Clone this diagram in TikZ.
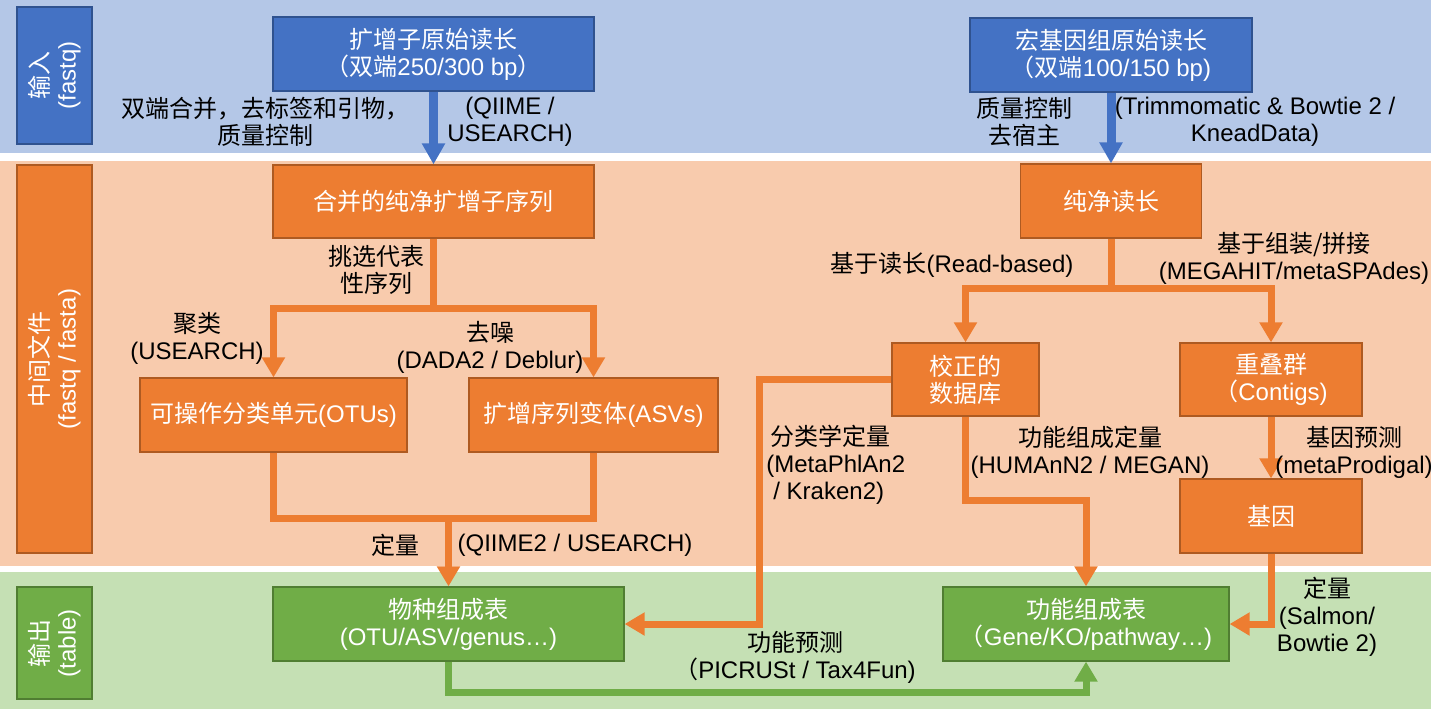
\documentclass[tikz,border=0pt]{standalone}
\usepackage{fontspec}
\setmainfont{Liberation Sans}
\newfontfamily\cjk{Noto Sans CJK SC}
\usetikzlibrary{arrows.meta}
\newcommand{\zh}[1]{{\cjk #1}}

\definecolor{bandblue}{HTML}{B4C7E7}
\definecolor{bandorange}{HTML}{F8CBAD}
\definecolor{bandgreen}{HTML}{C5E0B4}
\definecolor{boxblue}{HTML}{4472C4}
\definecolor{boxorange}{HTML}{ED7D31}
\definecolor{boxgreen}{HTML}{70AD47}
\definecolor{edgeblue}{HTML}{2F528F}
\definecolor{edgeorange}{HTML}{AE5A21}
\definecolor{edgegreen}{HTML}{507E32}

\tikzset{
  box/.style={draw, line width=0.6pt, text=white, align=center, inner sep=2pt},
  bluebox/.style={box, fill=boxblue, draw=edgeblue},
  orangebox/.style={box, fill=boxorange, draw=edgeorange},
  greenbox/.style={box, fill=boxgreen, draw=edgegreen},
  sidelabel/.style={rotate=90, minimum height=37.5pt},
  note/.style={align=center, inner sep=0pt, text=black},
  bluearrow/.style={line width=4.5pt, draw=boxblue, -{Triangle[width=11pt,length=10.5pt]}},
  orangeline/.style={line width=3.5pt, draw=boxorange},
  orangearrow/.style={orangeline, -{Triangle[width=11pt,length=10pt]}},
  greenarrow/.style={line width=3.5pt, draw=boxgreen, -{Triangle[width=11pt,length=10pt]}}
}

\begin{document}
\begin{tikzpicture}[x=0.5pt, y=-0.5pt, font=\fontsize{12}{13.5}\selectfont]
  \useasboundingbox (0,0) rectangle (1446,709);
  \fill[white] (0,0) rectangle (1446,709);
  \fill[bandblue] (0,0) rectangle (1431,153);
  \fill[bandorange] (0,161) rectangle (1431,566);
  \fill[bandgreen] (0,572) rectangle (1431,709);

  \node[bluebox, sidelabel, minimum width=68.5pt] (inlbl) at (54.5,75.5) {\zh{输入}\\(fastq)};
  \node[orangebox, sidelabel, minimum width=194pt] (midlbl) at (54.5,359) {\zh{中间文件}\\(fastq / fasta)};
  \node[greenbox, sidelabel, minimum width=56pt] (outlbl) at (54.5,643) {\zh{输出}\\(table)};

  \node[bluebox, minimum width=160.5pt, minimum height=37pt] (ampraw) at (433.5,54) {\zh{扩增子原始读长}\\\zh{（双端}250/300 bp\zh{）}};
  \node[bluebox, minimum width=141pt, minimum height=37pt] (metaraw) at (1111,55) {\zh{宏基因组原始读长}\\\zh{（双端}100/150 bp)};
  \node[orangebox, minimum width=160.5pt, minimum height=36.5pt] (ampclean) at (433.5,201.5) {\zh{合并的纯净扩增子序列}};
  \node[orangebox, minimum width=90.5pt, minimum height=37pt] (metaclean) at (1111,201) {\zh{纯净读长}};
  \node[orangebox, minimum width=133.5pt, minimum height=37pt] (otu) at (273.5,415) {\zh{可操作分类单元}(OTUs)};
  \node[orangebox, minimum width=124.5pt, minimum height=37pt] (asv) at (593.5,415) {\zh{扩增序列变体}(ASVs)};
  \node[orangebox, minimum width=73.5pt, minimum height=36.5pt] (db) at (965.5,379.5) {\zh{校正的}\\\zh{数据库}};
  \node[orangebox, minimum width=91pt, minimum height=36.5pt] (contigs) at (1271,379.5) {\zh{重叠群}\\\zh{（}Contigs)};
  \node[orangebox, minimum width=91pt, minimum height=37pt] (gene) at (1271,516) {\zh{基因}};
  \node[greenbox, minimum width=175.5pt, minimum height=37pt] (taxtab) at (448.5,624) {\zh{物种组成表}\\(OTU/ASV/genus…)};
  \node[greenbox, minimum width=143pt, minimum height=37pt] (functab) at (1086,624) {\zh{功能组成表}\\\zh{（}Gene/KO/pathway…)};

  \coordinate (ampsplit) at (433.5,308);
  \coordinate (ampmerge) at (448.5,518);
  \coordinate (metasplit) at (1111,288);
  \coordinate (taxbend) at (759,624);
  \coordinate (funcbend) at (1086,500);
  \coordinate (predbend) at (1086,692);

  \draw[bluearrow] (ampraw) -- (ampclean);
  \draw[bluearrow] (metaraw) -- (metaclean);
  \draw[orangeline] (ampclean) -- (ampsplit);
  \draw[orangearrow] (ampsplit) -| (otu);
  \draw[orangearrow] (ampsplit) -| (asv);
  \draw[orangeline] (otu) |- (ampmerge);
  \draw[orangeline] (asv) |- (ampmerge);
  \draw[orangearrow] (ampmerge) -- (taxtab);
  \draw[orangeline] (metaclean) -- (metasplit);
  \draw[orangearrow] (metasplit) -| (db);
  \draw[orangearrow] (metasplit) -| (contigs);
  \draw[orangearrow] (db) -| (taxbend) -- (taxtab);
  \draw[orangearrow] (db) |- (funcbend) -- (functab);
  \draw[orangearrow] (contigs) -- (gene);
  \draw[orangearrow] (gene) |- (functab);
  \draw[greenarrow] (taxtab) |- (predbend) -- (functab);

  \node[note] (pairnote) at (265,122) {\zh{双端合并，去标签和引物，}\\\zh{质量控制}};
  \node[note] (qiimenote) at (510,122) {(QIIME /\\USEARCH)};
  \node[note] (qcnote) at (1024,122) {\zh{质量控制}\\\zh{去宿主}};
  \node[note] (kneadnote) at (1255,122) {(Trimmomatic \& Bowtie 2 /\\KneadData)};
  \node[note] (picknote) at (376,270) {\zh{挑选代表}\\\zh{性序列}};
  \node[note] (clusternote) at (197,338) {\zh{聚类}\\(USEARCH)};
  \node[note] (denoisenote) at (490,347) {\zh{去噪}\\(DADA2 / Deblur)};
  \node[note] (quantnote) at (395,545) {\zh{定量}};
  \node[note] (qiime2note) at (575,545) {(QIIME2 / USEARCH)};
  \node[note] (readnote) at (952,265) {\zh{基于读长}(Read-based)};
  \node[note] (assemnote) at (1294,258) {\zh{基于组装/拼接}\\(MEGAHIT/metaSPAdes)};
  \node[note, align=left, anchor=west] (taxnote) at (766,465) {\hspace*{2pt}\zh{分类学定量}\\(MetaPhlAn2\\\hspace*{3.5pt}/ Kraken2)};
  \node[note] (funcnote) at (1090,452) {\zh{功能组成定量}\\(HUMAnN2 / MEGAN)};
  \node[note] (genenote) at (1354,452) {\zh{基因预测}\\(metaProdigal)};
  \node[note] (salmonnote) at (1327,617) {\zh{定量}\\(Salmon/\\Bowtie 2)};
  \node[note] (prednote) at (795,657) {\zh{功能预测}\\\zh{（}PICRUSt / Tax4Fun)};
\end{tikzpicture}
\end{document}
